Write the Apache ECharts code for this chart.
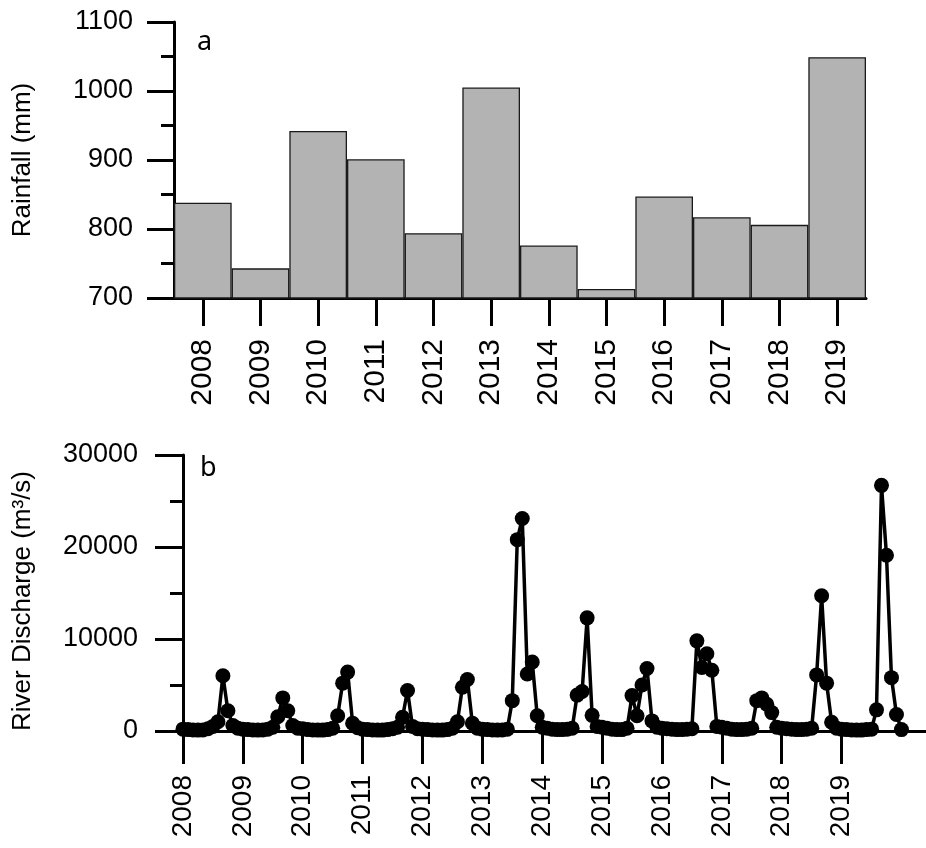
<!DOCTYPE html>
<html>
<head>
<meta charset="utf-8">
<script src="https://cdn.jsdelivr.net/npm/echarts@6/dist/echarts.min.js"></script>
<style>
  html, body { margin: 0; padding: 0; background: #ffffff; }
  #chart { width: 926px; height: 848px; }
</style>
</head>
<body>
<div id="chart"></div>
<script>
// Annual rainfall (panel a)
const years = ['2008', '2009', '2010', '2011', '2012', '2013', '2014', '2015', '2016', '2017', '2018', '2019'];
const rainfall = [838, 743, 942, 901, 794, 1005, 776, 713, 847, 817, 806, 1049];

// Monthly river discharge, m3/s (panel b), Jan..Dec per year
const q2008 = [200, 150, 120, 100, 120, 250, 500, 1000, 6000, 2200, 600, 300];
const q2009 = [200, 150, 120, 100, 120, 200, 400, 1550, 3600, 2200, 600, 300];
const q2010 = [250, 150, 120, 100, 100, 150, 300, 1650, 5200, 6400, 850, 350];
const q2011 = [200, 150, 120, 100, 100, 150, 250, 400, 1500, 4400, 500, 250];
const q2012 = [200, 150, 120, 100, 100, 150, 300, 1000, 4750, 5600, 850, 300];
const q2013 = [200, 150, 120, 100, 120, 200, 3300, 20800, 23100, 6200, 7500, 1650];
const q2014 = [400, 300, 200, 150, 150, 200, 300, 3900, 4300, 12300, 1700, 500];
const q2015 = [400, 300, 200, 150, 150, 300, 3850, 1650, 5000, 6800, 1100, 400];
const q2016 = [300, 250, 200, 150, 150, 200, 250, 9800, 6900, 8400, 6600, 500];
const q2017 = [400, 300, 200, 150, 150, 200, 300, 3300, 3600, 2900, 2000, 400];
const q2018 = [300, 250, 200, 150, 150, 200, 300, 6100, 14700, 5200, 950, 300];
const q2019 = [200, 150, 120, 100, 100, 150, 200, 2300, 26700, 19100, 5800, 1800];
const q2020 = [150];

// Tick values for the discharge time axis
const yearTicks = [2008, 2009, 2010, 2011, 2012, 2013, 2014, 2015, 2016, 2017, 2018, 2019];

const monthly = [q2008, q2009, q2010, q2011, q2012, q2013, q2014, q2015, q2016, q2017, q2018, q2019, q2020];
const discharge = [];
monthly.forEach(function (vals, yi) {
  vals.forEach(function (v, m) {
    discharge.push([2008 + yi + m / 12, v]);
  });
});

const FONT = 'Liberation Sans';
const plain = function (v) { return String(Math.round(v)); };
const axisLine = { show: true, lineStyle: { color: '#000', width: 3 } };

const chart = echarts.init(document.getElementById('chart'), null, { renderer: 'canvas' });
chart.setOption({
  animation: false,
  backgroundColor: '#ffffff',
  grid: [
    { left: 174, top: 22, width: 692, height: 276 },
    { left: 183, top: 455, right: 0, height: 276 }
  ],
  xAxis: [
    {
      gridIndex: 0,
      type: 'category',
      data: years,
      boundaryGap: true,
      axisLine: axisLine,
      axisTick: { show: true, alignWithLabel: true, length: 28, lineStyle: { color: '#000', width: 3 } },
      axisLabel: { rotate: 90, fontSize: 30, color: '#000', fontFamily: FONT, margin: 41 },
      splitLine: { show: false }
    },
    {
      gridIndex: 1,
      type: 'value',
      min: 2008,
      max: 2020.41,
      axisLine: axisLine,
      axisTick: { show: true, customValues: yearTicks, length: 33, lineStyle: { color: '#000', width: 3 } },
      axisLabel: { customValues: yearTicks, rotate: 90, fontSize: 28, color: '#000', fontFamily: FONT, margin: 44,
                   formatter: plain },
      splitLine: { show: false }
    }
  ],
  yAxis: [
    {
      gridIndex: 0,
      type: 'value',
      min: 700,
      max: 1100,
      interval: 100,
      name: 'Rainfall (mm)',
      nameLocation: 'middle',
      nameGap: 138,
      nameTextStyle: { fontSize: 26, color: '#000', fontFamily: FONT },
      axisLine: axisLine,
      axisTick: { show: true, length: 27, lineStyle: { color: '#000', width: 3 } },
      minorTick: { show: true, splitNumber: 2, length: 13, lineStyle: { color: '#000', width: 3 } },
      axisLabel: { fontSize: 27, color: '#000', fontFamily: FONT, margin: 41, formatter: plain },
      splitLine: { show: false },
      minorSplitLine: { show: false }
    },
    {
      gridIndex: 1,
      type: 'value',
      min: 0,
      max: 30000,
      interval: 10000,
      name: 'River Discharge (m³/s)',
      nameLocation: 'middle',
      nameGap: 147,
      nameTextStyle: { fontSize: 26, color: '#000', fontFamily: FONT, padding: [0, 16, 0, 0] },
      axisLine: axisLine,
      axisTick: { show: true, length: 28, lineStyle: { color: '#000', width: 3 } },
      minorTick: { show: true, splitNumber: 2, length: 13, lineStyle: { color: '#000', width: 3 } },
      axisLabel: { fontSize: 27, color: '#000', fontFamily: FONT, margin: 45, formatter: plain },
      splitLine: { show: false },
      minorSplitLine: { show: false }
    }
  ],
  series: [
    {
      type: 'bar',
      xAxisIndex: 0,
      yAxisIndex: 0,
      data: rainfall,
      barCategoryGap: '0%',
      itemStyle: { color: '#b3b3b3', borderColor: '#1a1a1a', borderWidth: 1.3 }
    },
    {
      type: 'line',
      xAxisIndex: 1,
      yAxisIndex: 1,
      data: discharge,
      clip: false,
      symbol: 'circle',
      symbolSize: 15,
      showAllSymbol: true,
      lineStyle: { color: '#000', width: 3.5 },
      itemStyle: { color: '#000' },
      z: 3
    }
  ],
  graphic: [
    { type: 'text', left: 197, top: 29, style: { text: 'a', fontSize: 27, fill: '#000', fontFamily: 'Noto Sans' } },
    { type: 'text', left: 200, top: 455, style: { text: 'b', fontSize: 27, fill: '#000', fontFamily: 'Noto Sans' } }
  ]
});
</script>
</body>
</html>
